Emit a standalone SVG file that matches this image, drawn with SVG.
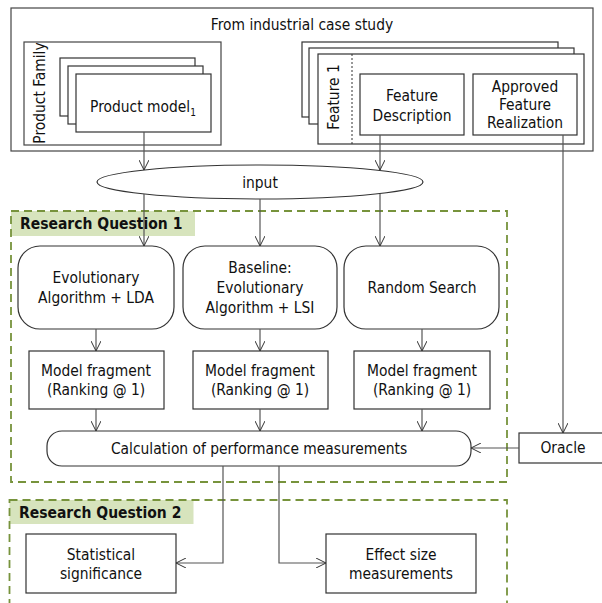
<svg xmlns="http://www.w3.org/2000/svg" width="602" height="603" viewBox="0 0 602 603">
  <defs>
    <marker id="arrow" viewBox="0 0 10 10" refX="10" refY="5" markerWidth="10" markerHeight="10" markerUnits="userSpaceOnUse" orient="auto">
      <path d="M0,0 L10,5 L0,10" fill="none" stroke="#333" stroke-width="1"/>
    </marker>
  </defs>
  <style>
    text { font-family: "DejaVu Sans Condensed", "DejaVu Sans", sans-serif; font-size: 15.4px; fill: #111; text-anchor: middle; }
    .box { fill: #fff; stroke: #333; stroke-width: 1.2; }
    .plain { fill: none; stroke: #444; stroke-width: 1.2; }
    .rq { fill: none; stroke: #77933C; stroke-width: 1.8; stroke-dasharray: 8 5; }
    .rqbg { fill: #D7E4BD; }
    .rqlabel { font-weight: bold; font-size: 15.5px; text-anchor: start; }
    .conn { fill: none; stroke: #555; stroke-width: 1.2; }
    .dotted { stroke: #333; stroke-width: 1; stroke-dasharray: 2 2; }
  </style>

  <!-- source data from the industrial case -->
  <g id="case-study">
    <rect class="plain" x="11" y="8" width="582" height="143"/>
    <text x="302" y="30">From industrial case study</text>
  </g>

  <g id="product-family">
    <rect class="plain" x="24" y="42" width="197" height="103"/>
    <text transform="translate(45,93) rotate(-90)">Product Family</text>
    <rect class="box" x="60" y="58" width="135" height="58"/>
    <rect class="box" x="68" y="66" width="135" height="58"/>
    <rect class="box" x="76" y="74" width="135" height="58"/>
    <text x="143" y="112">Product model<tspan font-size="10" dy="4">1</tspan></text>
  </g>

  <g id="features">
    <rect class="box" x="302" y="42" width="256" height="75"/>
    <rect class="box" x="309" y="48" width="265" height="76"/>
    <rect class="box" x="318" y="54" width="266" height="90"/>
    <line class="dotted" x1="352" y1="54" x2="352" y2="144"/>
    <text transform="translate(339,97) rotate(-90)">Feature 1</text>
  </g>

  <g id="feature-description">
    <rect class="box" x="360" y="74" width="104" height="61"/>
    <text x="412" y="101">Feature</text>
    <text x="412" y="121">Description</text>
  </g>

  <g id="approved-realization">
    <rect class="box" x="473" y="74" width="104" height="61"/>
    <text x="525" y="92">Approved</text>
    <text x="525" y="110">Feature</text>
    <text x="525" y="128">Realization</text>
  </g>

  <g id="input">
    <ellipse class="box" cx="260" cy="182" rx="163" ry="17"/>
    <text x="260" y="188">input</text>
  </g>

  <!-- research question 1 -->
  <g id="rq1">
    <rect class="rqbg" x="11" y="211" width="184" height="25"/>
    <rect class="rq" x="11" y="211" width="496" height="271"/>
    <text class="rqlabel" x="20" y="229">Research Question 1</text>
  </g>

  <g id="ea-lda">
    <rect class="box" x="18" y="246" width="156" height="83" rx="22"/>
    <text x="96" y="283">Evolutionary</text>
    <text x="96" y="303">Algorithm + LDA</text>
  </g>

  <g id="ea-lsi">
    <rect class="box" x="183" y="246" width="154" height="83" rx="22"/>
    <text x="260" y="273">Baseline:</text>
    <text x="260" y="293">Evolutionary</text>
    <text x="260" y="313">Algorithm + LSI</text>
  </g>

  <g id="random-search">
    <rect class="box" x="344" y="246" width="155" height="83" rx="22"/>
    <text x="422" y="293">Random Search</text>
  </g>

  <g id="fragment-1">
    <rect class="box" x="29" y="351" width="135" height="58"/>
    <text x="96" y="376">Model fragment</text>
    <text x="96" y="395">(Ranking @ 1)</text>
  </g>

  <g id="fragment-2">
    <rect class="box" x="193" y="351" width="135" height="58"/>
    <text x="260" y="376">Model fragment</text>
    <text x="260" y="395">(Ranking @ 1)</text>
  </g>

  <g id="fragment-3">
    <rect class="box" x="354" y="351" width="136" height="58"/>
    <text x="422" y="376">Model fragment</text>
    <text x="422" y="395">(Ranking @ 1)</text>
  </g>

  <g id="performance">
    <rect class="box" x="47" y="431" width="424" height="35" rx="15"/>
    <text x="259" y="454">Calculation of performance measurements</text>
  </g>

  <g id="oracle">
    <rect class="box" x="519" y="433" width="85" height="30"/>
    <text x="563" y="453">Oracle</text>
  </g>

  <!-- research question 2 -->
  <g id="rq2">
    <rect class="rqbg" x="9.5" y="500" width="184" height="24"/>
    <rect class="rq" x="9.5" y="500" width="497.5" height="115"/>
    <text class="rqlabel" x="19" y="518">Research Question 2</text>
  </g>

  <g id="significance">
    <rect class="box" x="26" y="534" width="150" height="59"/>
    <text x="101" y="560">Statistical</text>
    <text x="101" y="579">significance</text>
  </g>

  <g id="effect-size">
    <rect class="box" x="326" y="534" width="150" height="59"/>
    <text x="401" y="560">Effect size</text>
    <text x="401" y="579">measurements</text>
  </g>

  <g id="connectors">
    <line class="conn" x1="144" y1="132" x2="144" y2="170" marker-end="url(#arrow)"/>
    <line class="conn" x1="380" y1="135" x2="380" y2="170" marker-end="url(#arrow)"/>
    <line class="conn" x1="144" y1="194" x2="144" y2="246" marker-end="url(#arrow)"/>
    <line class="conn" x1="260" y1="199" x2="260" y2="246" marker-end="url(#arrow)"/>
    <line class="conn" x1="380" y1="194" x2="380" y2="246" marker-end="url(#arrow)"/>
    <line class="conn" x1="96" y1="329" x2="96" y2="351" marker-end="url(#arrow)"/>
    <line class="conn" x1="260" y1="329" x2="260" y2="351" marker-end="url(#arrow)"/>
    <line class="conn" x1="422" y1="329" x2="422" y2="351" marker-end="url(#arrow)"/>
    <line class="conn" x1="96" y1="409" x2="96" y2="431" marker-end="url(#arrow)"/>
    <line class="conn" x1="260" y1="409" x2="260" y2="431" marker-end="url(#arrow)"/>
    <line class="conn" x1="422" y1="409" x2="422" y2="431" marker-end="url(#arrow)"/>
    <line class="conn" x1="563" y1="135" x2="563" y2="433" marker-end="url(#arrow)"/>
    <line class="conn" x1="519" y1="448" x2="471" y2="448" marker-end="url(#arrow)"/>
    <polyline class="conn" points="223,466 223,563 176,563" marker-end="url(#arrow)"/>
    <polyline class="conn" points="279,466 279,563 326,563" marker-end="url(#arrow)"/>
  </g>
</svg>
